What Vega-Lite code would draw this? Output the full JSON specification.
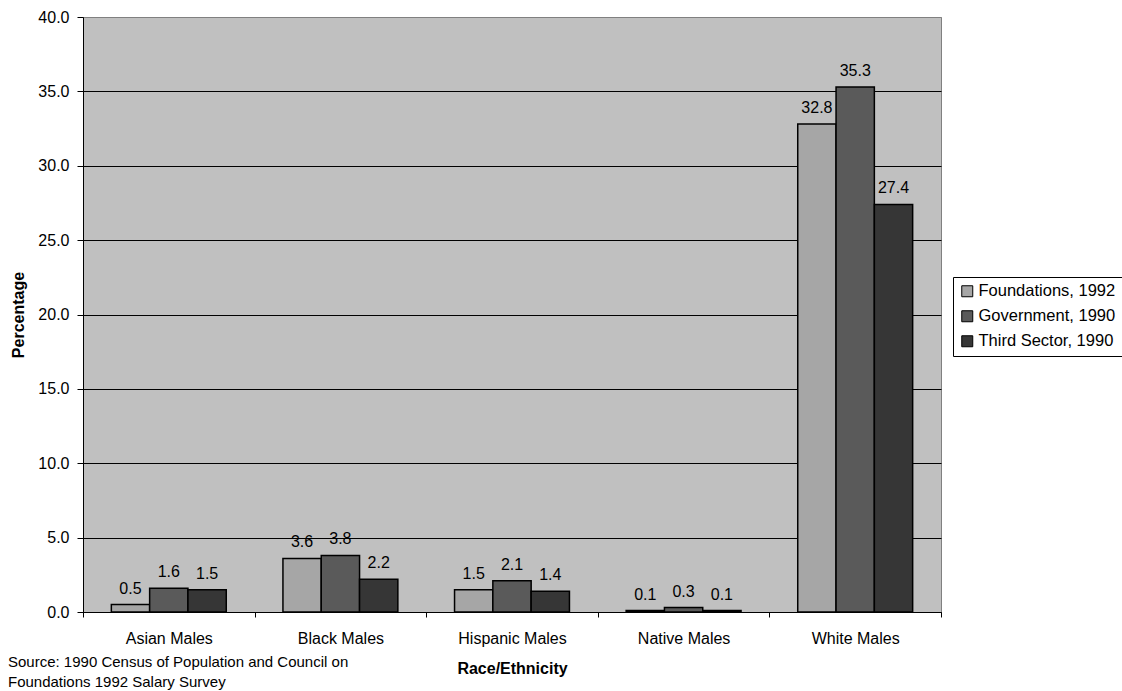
{
  "$schema": "https://vega.github.io/schema/vega-lite/v6.json",
  "width": 858,
  "height": 595,
  "autosize": "none",
  "padding": {"left": 83, "top": 17, "right": 181, "bottom": 79},
  "background": "white",
  "config": {
    "font": "Liberation Sans",
    "view": {"fill": "#C0C0C0", "stroke": "#808080", "strokeWidth": 1}
  },
  "title": {
    "text": ["Source: 1990 Census of Population and Council on", "Foundations 1992 Salary Survey"],
    "orient": "bottom",
    "anchor": "start",
    "frame": "group",
    "dx": -75,
    "offset": -21,
    "fontSize": 15,
    "fontWeight": "normal",
    "color": "#000000",
    "lineHeight": 20
  },
  "data": {
    "values": [
      {"group": "Asian Males", "series": "Foundations, 1992", "pct": 0.5},
      {"group": "Asian Males", "series": "Government, 1990", "pct": 1.6},
      {"group": "Asian Males", "series": "Third Sector, 1990", "pct": 1.5},
      {"group": "Black Males", "series": "Foundations, 1992", "pct": 3.6},
      {"group": "Black Males", "series": "Government, 1990", "pct": 3.8},
      {"group": "Black Males", "series": "Third Sector, 1990", "pct": 2.2},
      {"group": "Hispanic Males", "series": "Foundations, 1992", "pct": 1.5},
      {"group": "Hispanic Males", "series": "Government, 1990", "pct": 2.1},
      {"group": "Hispanic Males", "series": "Third Sector, 1990", "pct": 1.4},
      {"group": "Native Males", "series": "Foundations, 1992", "pct": 0.1},
      {"group": "Native Males", "series": "Government, 1990", "pct": 0.3},
      {"group": "Native Males", "series": "Third Sector, 1990", "pct": 0.1},
      {"group": "White Males", "series": "Foundations, 1992", "pct": 32.8},
      {"group": "White Males", "series": "Government, 1990", "pct": 35.3},
      {"group": "White Males", "series": "Third Sector, 1990", "pct": 27.4}
    ]
  },
  "encoding": {
    "x": {
      "field": "group",
      "type": "nominal",
      "sort": null,
      "scale": {"paddingInner": 0, "paddingOuter": 0},
      "axis": {
        "title": "Race/Ethnicity",
        "titleFontSize": 16,
        "titleFontWeight": "bold",
        "titleColor": "#000000",
        "titlePadding": 14,
        "labelFontSize": 16,
        "labelColor": "#000000",
        "labelAngle": 0,
        "labelPadding": 13,
        "tickBand": "extent",
        "tickSize": 5,
        "tickColor": "#000000",
        "domainColor": "#000000",
        "grid": false
      }
    },
    "xOffset": {
      "field": "series",
      "type": "nominal",
      "scale": {"paddingInner": 0, "paddingOuter": 0.74}
    },
    "y": {
      "field": "pct",
      "type": "quantitative",
      "scale": {"domain": [0, 40]},
      "axis": {
        "title": "Percentage",
        "titleFontSize": 16,
        "titleFontWeight": "bold",
        "titleColor": "#000000",
        "titlePadding": 11,
        "values": [0, 5, 10, 15, 20, 25, 30, 35, 40],
        "format": ".1f",
        "labelFontSize": 16,
        "labelColor": "#000000",
        "labelPadding": 8,
        "tickSize": 6,
        "tickColor": "#000000",
        "domainColor": "#000000",
        "grid": true,
        "gridColor": {"condition": {"test": "datum.value === 40", "value": "#808080"}, "value": "#000000"},
        "gridOpacity": 1,
        "gridWidth": 1
      }
    }
  },
  "layer": [
    {
      "mark": {"type": "bar", "stroke": "#000000", "strokeWidth": 1.5},
      "encoding": {
        "color": {
          "field": "series",
          "type": "nominal",
          "scale": {
            "domain": ["Foundations, 1992", "Government, 1990", "Third Sector, 1990"],
            "range": ["#A6A6A6", "#5A5A5A", "#363636"]
          },
          "legend": {
            "title": null,
            "orient": "none",
            "legendX": 870,
            "legendY": 260,
            "labelFontSize": 16.5,
            "labelColor": "#000000",
            "symbolType": "square",
            "symbolSize": 121,
            "symbolStrokeColor": "#000000",
            "symbolStrokeWidth": 1,
            "symbolOpacity": 1,
            "rowPadding": 8,
            "labelOffset": 3,
            "padding": 6,
            "strokeColor": "#000000",
            "fillColor": "#FFFFFF"
          }
        }
      }
    },
    {
      "mark": {"type": "text", "baseline": "bottom", "dy": -8, "fontSize": 16, "color": "#000000"},
      "encoding": {
        "text": {"field": "pct", "type": "quantitative", "format": ".1f"}
      }
    }
  ]
}
